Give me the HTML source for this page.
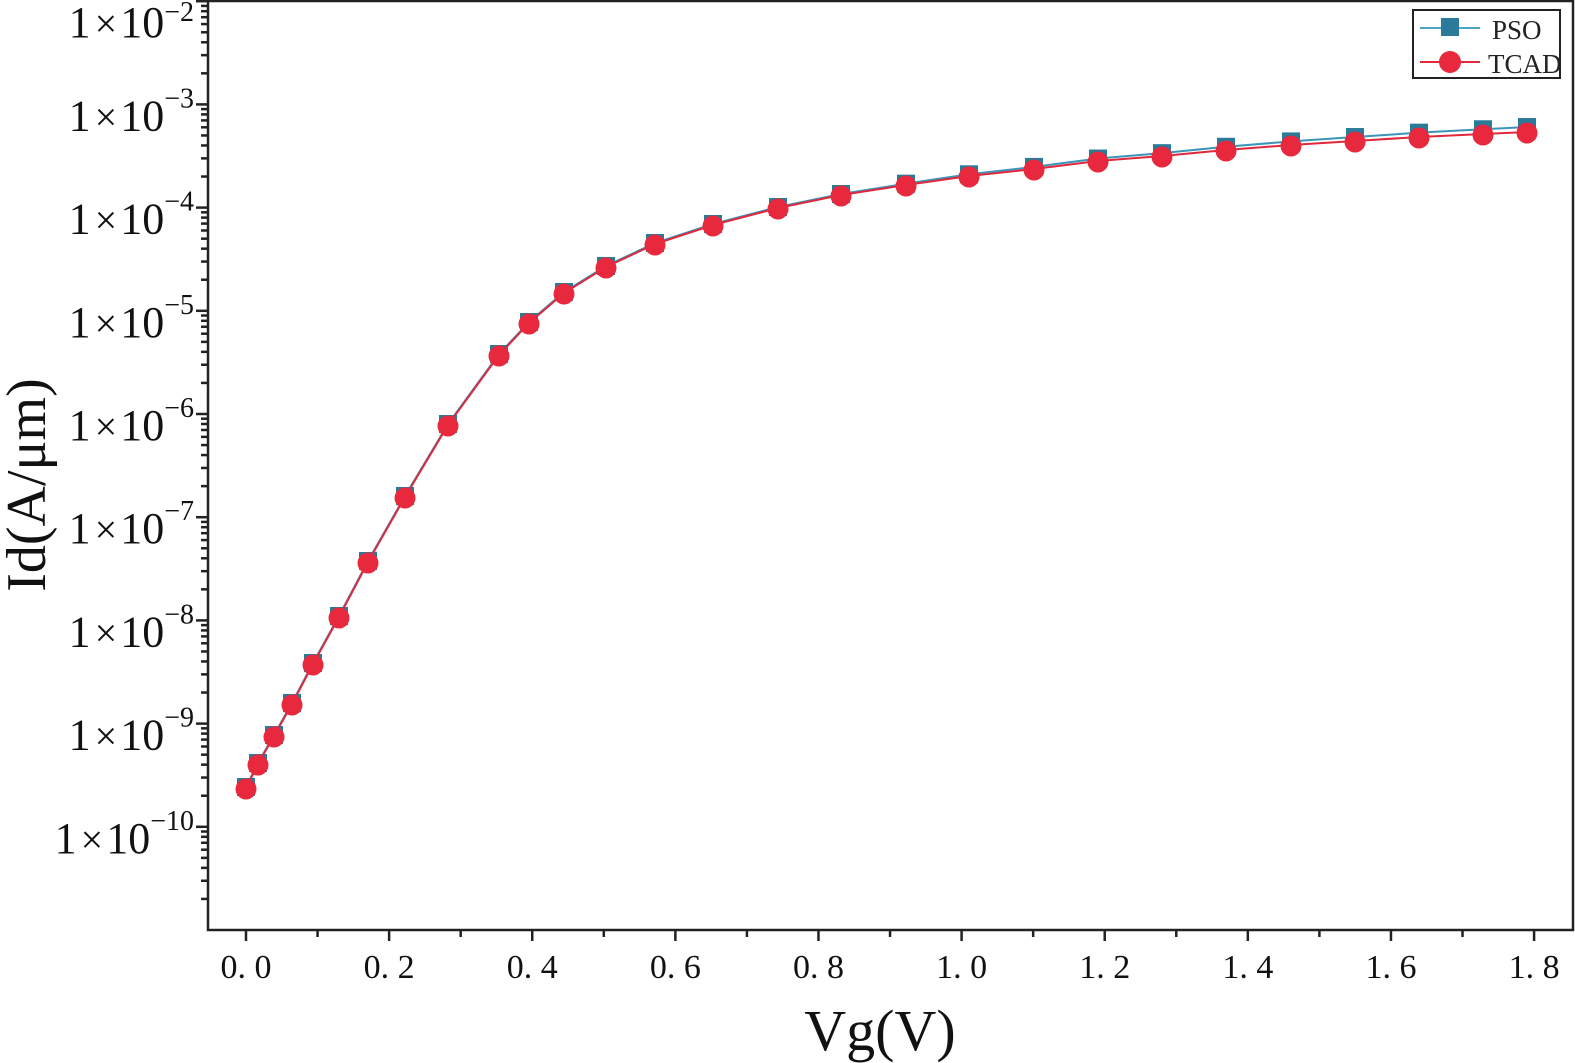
<!DOCTYPE html>
<html><head><meta charset="utf-8"><style>
html,body{margin:0;padding:0;background:#fff;}
svg{display:block;font-family:"Liberation Serif",serif;}
</style></head><body>
<svg id="s" width="1575" height="1063" viewBox="0 0 1575 1063" xmlns="http://www.w3.org/2000/svg">
<rect x="0" y="0" width="1575" height="1063" fill="#fff"/>
<rect x="208" y="1" width="1365" height="929" fill="none" stroke="#222" stroke-width="2.5"/>
<g id="ticks" stroke="#222" stroke-width="2.5"></g>
<g id="labels" fill="#111"></g>
<g id="series"></g>
<g>
<rect x="1413" y="10" width="147" height="68" fill="#fff" stroke="#222" stroke-width="2"/>
<line x1="1420" y1="28" x2="1480" y2="28" stroke="#4aa6c4" stroke-width="2"/>
<rect x="1441" y="18" width="18" height="18" fill="#2a7a9a"/>
<line x1="1420" y1="62" x2="1480" y2="62" stroke="#e0283c" stroke-width="2"/>
<circle cx="1450" cy="62" r="11" fill="#e8283c"/>
<text x="1492" y="39" font-size="27" fill="#222">PSO</text>
<text x="1488" y="73" font-size="27" fill="#222">TCAD</text>
</g>
<text x="880" y="1050" font-size="58" text-anchor="middle" fill="#111">Vg(V)</text>
<text transform="translate(45,485) rotate(-90)" font-size="56" text-anchor="middle" fill="#111">Id(A/μm)</text>
</svg>
<script>
var NS="http://www.w3.org/2000/svg";
function el(p,t,a,txt){var e=document.createElementNS(NS,t);for(var k in a)e.setAttribute(k,a[k]);if(txt!==undefined)e.textContent=txt;document.getElementById(p).appendChild(e);return e;}
function Y(l){return 930-103.2*(l+11);}
for(var d=-11;d<=-2;d++){
  var y=Y(d);
  if(d>=-10){el("ticks","line",{x1:196,y1:y,x2:208,y2:y});}
  for(var m=2;m<=9;m++){var ym=Y(d+Math.log10(m));if(ym<2)continue;el("ticks","line",{x1:201,y1:ym,x2:208,y2:ym});}
  if(d>=-10){
    var by=(d==-2)?37:y+26;
    var sd=(d==-2)?-16:-23;
    var t=el("labels","text",{x:194,y:by,"font-size":44,"text-anchor":"end"});
    t.innerHTML='1<tspan font-size="40" dx="4">×</tspan><tspan dx="3">10</tspan><tspan dy="'+sd+'" font-size="28">−'+(-d)+'</tspan>';
  }
}
var X=function(v){return 246+715.6*v;};
for(var i=0;i<=18;i++){var x=X(i/10);el("ticks","line",{x1:x,y1:930,x2:x,y2:i%2?937:941});
 if(i%2==0){el("labels","text",{x:x,y:978,"font-size":34,"text-anchor":"middle"},(i/10).toFixed(1).replace(".",". "));}}
var P=[[246,788],[258,764],[274,736],[292,704],[313,664],[339,617],[368,562],[405,497],[448,425],[499,355],[529,323],[564,293],[606,267],[655,244],[713,225],[778,208],[841,195],[906,185],[969,176],[1034,169],[1098,161],[1162,156],[1226,150],[1291,145],[1355,141],[1419,137],[1483,134],[1527,132]];
var pso=P.map(function(p){var o=p[0]>850?-(p[0]-850)/680*4:0;return [p[0],p[1]+o-1];});
el("series","polyline",{points:pso.map(function(p){return p.join(",")}).join(" "),fill:"none",stroke:"#3a95b8","stroke-width":2});
pso.forEach(function(p){el("series","rect",{x:p[0]-9,y:p[1]-9,width:18,height:18,fill:"#2a7a9a"});});
el("series","polyline",{points:P.map(function(p){return p.join(",")}).join(" "),fill:"none",stroke:"#e0283c","stroke-width":2});
P.forEach(function(p){el("series","circle",{cx:p[0],cy:p[1]+1,r:10.5,fill:"#e8283c"});});
</script>
</body></html>
